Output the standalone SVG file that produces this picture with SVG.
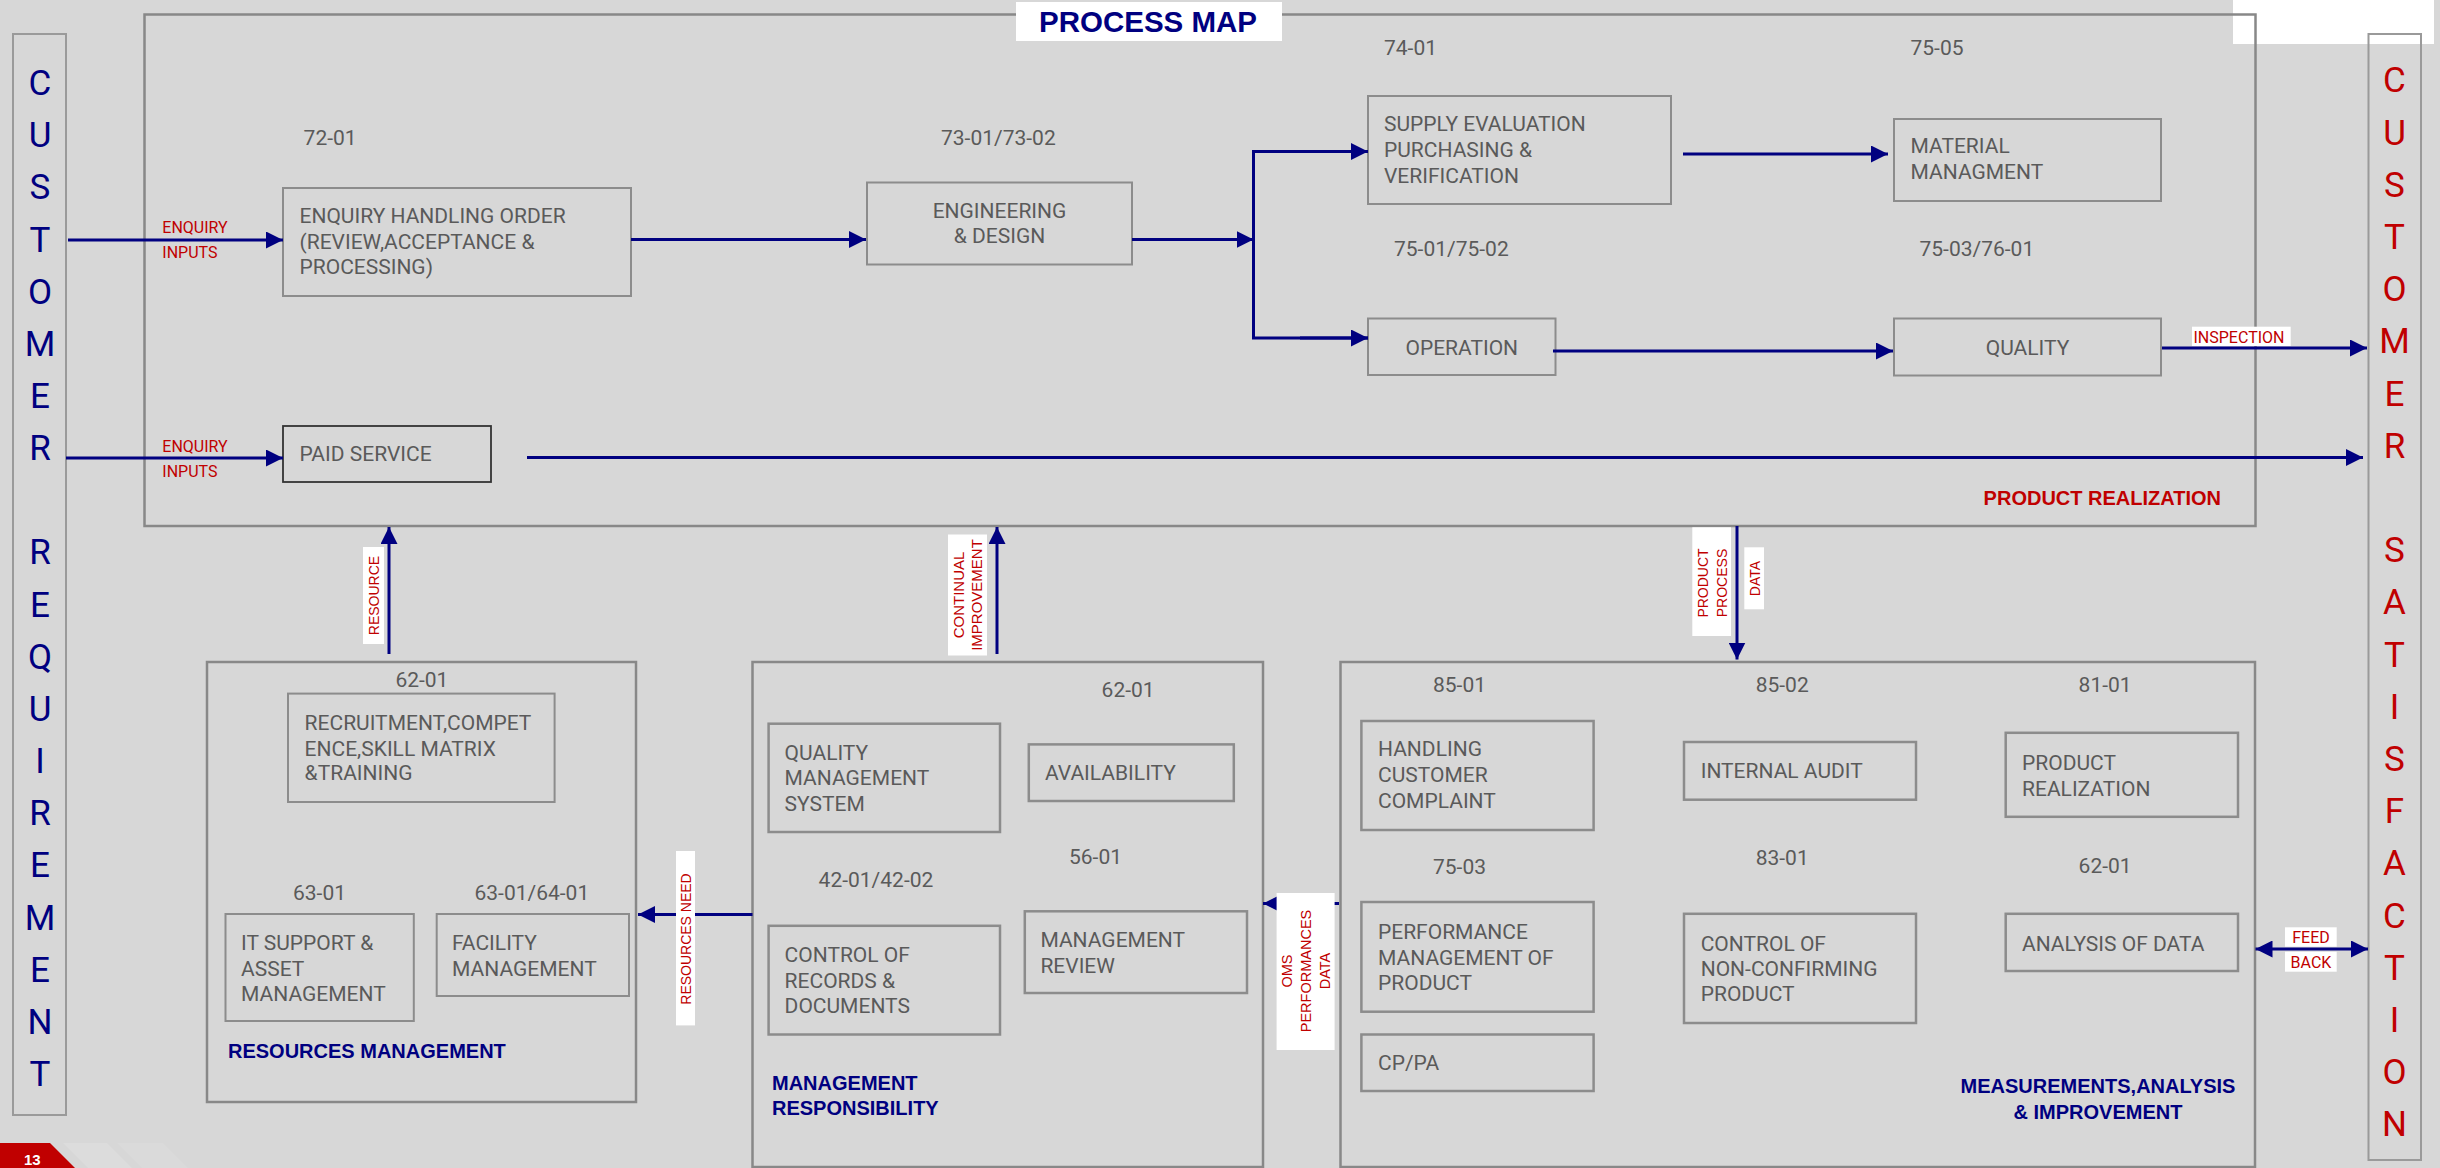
<svg xmlns="http://www.w3.org/2000/svg" width="2440" height="1168" viewBox="0 0 2440 1168">
<defs>
<style>
.bg{fill:#d7d7d7}
.bx{fill:none;stroke:#8c8c8c;stroke-width:2}
.bx2{fill:none;stroke:#8c8c8c;stroke-width:2.5}
.sec{fill:none;stroke:#888888;stroke-width:2.5}
.bar{fill:none;stroke:#9a9a9a;stroke-width:2}
.t{font-family:Roboto,"Liberation Sans",sans-serif;font-size:21px;fill:#5a5a5a}
.c{text-anchor:middle}
.lbl{font-family:Roboto,"Liberation Sans",sans-serif;font-size:16px;fill:#c00000}
.vl{font-family:"Liberation Sans",Arial,sans-serif;font-size:14px;fill:#c00000;text-anchor:middle}
.vl15{font-size:15px}
.vl145{font-size:14.5px}
.ttl{font-family:"Liberation Sans",Arial,sans-serif;font-weight:bold;font-size:20px}
.big{font-size:29.5px}
.navy{fill:#000080}
.red{fill:#c00000}
.letters{font-family:Roboto,"Liberation Sans",sans-serif;font-size:35px;text-anchor:middle}
.conn{stroke:#000080;stroke-width:3;fill:none}
.wbg{fill:#ffffff}
</style>
<marker id="ah" markerUnits="userSpaceOnUse" markerWidth="17" markerHeight="17" refX="17" refY="8.5" orient="auto-start-reverse">
<path d="M0,0 L17,8.5 L0,17 Z" fill="#000080"/>
</marker>
</defs>
<rect class="bg" x="0" y="0" width="2440" height="1168"/>

<!-- decorative page number -->
<g id="page-number">
<polygon points="63,1143 107,1143 132,1168 88,1168" fill="#dcdcdc"/>
<polygon points="117,1143 163,1143 188,1168 142,1168" fill="#dadada"/>
<polygon points="0,1143 50,1143 75,1168 0,1168" fill="#c00000"/>
<text x="24" y="1165" font-family="Liberation Sans, Arial, sans-serif" font-weight="bold" font-size="15" fill="#ffffff">13</text>
</g>

<!-- top right white strip -->
<rect class="wbg" x="2233" y="0" width="201" height="44"/>

<!-- Customer requirement bar -->
<g id="customer-requirement">
<rect class="bar" x="13" y="34" width="53" height="1081"/>
<text class="letters navy"><tspan x="40" y="95">C</tspan><tspan x="40" y="147.2">U</tspan><tspan x="40" y="199.3">S</tspan><tspan x="40" y="251.5">T</tspan><tspan x="40" y="303.6">O</tspan><tspan x="40" y="355.8">M</tspan><tspan x="40" y="408">E</tspan><tspan x="40" y="460.1">R</tspan><tspan x="40" y="564.4">R</tspan><tspan x="40" y="616.6">E</tspan><tspan x="40" y="668.8">Q</tspan><tspan x="40" y="720.9">U</tspan><tspan x="40" y="773.1">I</tspan><tspan x="40" y="825.2">R</tspan><tspan x="40" y="877.4">E</tspan><tspan x="40" y="929.6">M</tspan><tspan x="40" y="981.7">E</tspan><tspan x="40" y="1033.9">N</tspan><tspan x="40" y="1086">T</tspan></text>
</g>

<!-- Customer satisfaction bar -->
<g id="customer-satisfaction">
<rect class="bar" x="2368.5" y="34" width="52.5" height="1126"/>
<text class="letters red"><tspan x="2394.5" y="92.4">C</tspan><tspan x="2394.5" y="144.6">U</tspan><tspan x="2394.5" y="196.8">S</tspan><tspan x="2394.5" y="249">T</tspan><tspan x="2394.5" y="301.2">O</tspan><tspan x="2394.5" y="353.4">M</tspan><tspan x="2394.5" y="405.6">E</tspan><tspan x="2394.5" y="457.8">R</tspan><tspan x="2394.5" y="562.2">S</tspan><tspan x="2394.5" y="614.4">A</tspan><tspan x="2394.5" y="666.6">T</tspan><tspan x="2394.5" y="718.8">I</tspan><tspan x="2394.5" y="771">S</tspan><tspan x="2394.5" y="823.2">F</tspan><tspan x="2394.5" y="875.4">A</tspan><tspan x="2394.5" y="927.6">C</tspan><tspan x="2394.5" y="979.8">T</tspan><tspan x="2394.5" y="1032">I</tspan><tspan x="2394.5" y="1084.2">O</tspan><tspan x="2394.5" y="1136.4">N</tspan></text>
</g>

<!-- Product realization section -->
<g id="product-realization">
<rect class="sec" x="144.5" y="14.5" width="2111" height="511.5"/>
<rect class="wbg" x="1016" y="2" width="266" height="39"/>
<text x="1148" y="31.7" class="ttl big navy c">PROCESS MAP</text>
<text x="2221" y="504.5" class="ttl red" text-anchor="end">PRODUCT REALIZATION</text>
</g>

<g id="enquiry-handling">
<text class="t" x="303.6" y="144.6">72-01</text>
<rect class="bx" x="283" y="188" width="348" height="108"/>
<text class="t" x="299.5" y="223">ENQUIRY HANDLING ORDER</text>
<text class="t" x="299.5" y="248.5">(REVIEW,ACCEPTANCE &amp;</text>
<text class="t" x="299.5" y="274">PROCESSING)</text>
</g>

<g id="engineering-design">
<text class="t" x="941" y="145">73-01/73-02</text>
<rect class="bx" x="867" y="182.5" width="265" height="82"/>
<text class="t c" x="999.5" y="217.6">ENGINEERING</text>
<text class="t c" x="999.5" y="243">&amp; DESIGN</text>
</g>

<g id="supply-evaluation">
<text class="t" x="1384" y="54.5">74-01</text>
<rect class="bx" x="1368" y="96" width="303" height="108"/>
<text class="t" x="1384" y="131">SUPPLY EVALUATION</text>
<text class="t" x="1384" y="157">PURCHASING &amp;</text>
<text class="t" x="1384" y="182.5">VERIFICATION</text>
</g>

<g id="material-management">
<text class="t" x="1910.5" y="54.5">75-05</text>
<rect class="bx" x="1894" y="119" width="267" height="82"/>
<text class="t" x="1910.5" y="153">MATERIAL</text>
<text class="t" x="1910.5" y="179">MANAGMENT</text>
</g>

<g id="operation">
<text class="t" x="1394" y="255.5">75-01/75-02</text>
<rect class="bx" x="1368" y="318.5" width="187.5" height="56.5"/>
<text class="t c" x="1461.75" y="354.7">OPERATION</text>
</g>

<g id="quality">
<text class="t" x="1919.5" y="255.5">75-03/76-01</text>
<rect class="bx" x="1894" y="318.5" width="267" height="57"/>
<text class="t c" x="2027.5" y="354.7">QUALITY</text>
</g>

<g id="paid-service">
<rect x="283" y="426" width="208" height="56" fill="none" stroke="#333333" stroke-width="1.8"/>
<text class="t" x="299.5" y="461">PAID SERVICE</text>
</g>

<!-- Resources management -->
<g id="resources-management">
<rect class="sec" x="207" y="662" width="429" height="440"/>
<text x="228" y="1058.4" class="ttl navy">RESOURCES MANAGEMENT</text>
</g>
<g id="recruitment">
<text class="t" x="395.4" y="686.5">62-01</text>
<rect class="bx" x="288" y="693.6" width="266.6" height="108.4"/>
<text class="t" x="304.6" y="730">RECRUITMENT,COMPET</text>
<text class="t" x="304.6" y="755.5">ENCE,SKILL MATRIX</text>
<text class="t" x="304.6" y="780">&amp;TRAINING</text>
</g>
<g id="it-support">
<text class="t" x="293" y="900">63-01</text>
<rect class="bx" x="225.5" y="914" width="188.3" height="107"/>
<text class="t" x="241" y="950">IT SUPPORT &amp;</text>
<text class="t" x="241" y="975.5">ASSET</text>
<text class="t" x="241" y="1000.6">MANAGEMENT</text>
</g>
<g id="facility">
<text class="t" x="474.5" y="900">63-01/64-01</text>
<rect class="bx" x="436.7" y="914" width="192.3" height="82"/>
<text class="t" x="452" y="950">FACILITY</text>
<text class="t" x="452" y="975.5">MANAGEMENT</text>
</g>

<!-- Management responsibility -->
<g id="management-responsibility">
<rect class="sec" x="752.5" y="662" width="510.5" height="505"/>
<text x="772" y="1090" class="ttl navy">MANAGEMENT</text>
<text x="772" y="1115" class="ttl navy">RESPONSIBILITY</text>
</g>
<g id="qms">
<rect class="bx2" x="768.6" y="723.7" width="231.4" height="108.3"/>
<text class="t" x="784.6" y="759.7">QUALITY</text>
<text class="t" x="784.6" y="785.3">MANAGEMENT</text>
<text class="t" x="784.6" y="811">SYSTEM</text>
</g>
<g id="availability">
<text class="t" x="1101.6" y="697">62-01</text>
<rect class="bx2" x="1028.8" y="744.4" width="205" height="56.6"/>
<text class="t" x="1045" y="780">AVAILABILITY</text>
</g>
<g id="control-records">
<text class="t" x="818.6" y="886.5">42-01/42-02</text>
<rect class="bx2" x="768.6" y="925.8" width="231.4" height="108.7"/>
<text class="t" x="784.6" y="962">CONTROL OF</text>
<text class="t" x="784.6" y="987.8">RECORDS &amp;</text>
<text class="t" x="784.6" y="1013">DOCUMENTS</text>
</g>
<g id="management-review">
<text class="t" x="1069" y="863.8">56-01</text>
<rect class="bx2" x="1024.8" y="911.3" width="222.2" height="81.7"/>
<text class="t" x="1040.4" y="947">MANAGEMENT</text>
<text class="t" x="1040.4" y="972.5">REVIEW</text>
</g>

<!-- Measurements -->
<g id="measurements-analysis-improvement">
<rect class="sec" x="1340.5" y="662" width="914.5" height="505"/>
<text x="2098" y="1093.3" class="ttl navy c">MEASUREMENTS,ANALYSIS</text>
<text x="2098" y="1119.3" class="ttl navy c">&amp; IMPROVEMENT</text>
</g>
<g id="handling-complaint">
<text class="t" x="1433" y="691.5">85-01</text>
<rect class="bx2" x="1361.4" y="721" width="232.2" height="109"/>
<text class="t" x="1378" y="756.4">HANDLING</text>
<text class="t" x="1378" y="782.4">CUSTOMER</text>
<text class="t" x="1378" y="808">COMPLAINT</text>
</g>
<g id="internal-audit">
<text class="t" x="1755.7" y="691.5">85-02</text>
<rect class="bx2" x="1684" y="742" width="232" height="57.7"/>
<text class="t" x="1700.7" y="778">INTERNAL AUDIT</text>
</g>
<g id="product-realization-check">
<text class="t" x="2078.6" y="691.5">81-01</text>
<rect class="bx2" x="2005.7" y="732.8" width="232.3" height="84"/>
<text class="t" x="2022" y="770">PRODUCT</text>
<text class="t" x="2022" y="795.6">REALIZATION</text>
</g>
<g id="performance-management">
<text class="t" x="1433" y="874">75-03</text>
<rect class="bx2" x="1361.4" y="902" width="232.2" height="109.7"/>
<text class="t" x="1378" y="939.4">PERFORMANCE</text>
<text class="t" x="1378" y="964.5">MANAGEMENT OF</text>
<text class="t" x="1378" y="989.8">PRODUCT</text>
</g>
<g id="control-nonconforming">
<text class="t" x="1755.7" y="865">83-01</text>
<rect class="bx2" x="1684" y="913.8" width="232" height="109.2"/>
<text class="t" x="1700.7" y="950.6">CONTROL OF</text>
<text class="t" x="1700.7" y="975.8">NON-CONFIRMING</text>
<text class="t" x="1700.7" y="1001.4">PRODUCT</text>
</g>
<g id="analysis-of-data">
<text class="t" x="2078.6" y="873">62-01</text>
<rect class="bx2" x="2005.7" y="913.8" width="232.3" height="57.2"/>
<text class="t" x="2022" y="950.6">ANALYSIS OF DATA</text>
</g>
<g id="cp-pa">
<rect class="bx2" x="1361.4" y="1034.5" width="232.2" height="56.5"/>
<text class="t" x="1378" y="1070">CP/PA</text>
</g>

<!-- Connectors -->
<g id="connectors">
<line class="conn" x1="68" y1="240" x2="283" y2="240" marker-end="url(#ah)"/>
<line class="conn" x1="66" y1="458" x2="283" y2="458" marker-end="url(#ah)"/>
<line class="conn" x1="631" y1="239.5" x2="866" y2="239.5" marker-end="url(#ah)"/>
<line class="conn" x1="1132" y1="239.5" x2="1253.5" y2="239.5" marker-end="url(#ah)"/>
<polyline class="conn" points="1368,151.5 1253.5,151.5 1253.5,338 1368,338"/>
<line class="conn" x1="1300" y1="151.5" x2="1368" y2="151.5" marker-end="url(#ah)"/>
<line class="conn" x1="1300" y1="338" x2="1368" y2="338" marker-end="url(#ah)"/>
<line class="conn" x1="1683" y1="154" x2="1888" y2="154" marker-end="url(#ah)"/>
<line class="conn" x1="1553" y1="351" x2="1893" y2="351" marker-end="url(#ah)"/>
<line class="conn" x1="2162" y1="348" x2="2367" y2="348" marker-end="url(#ah)"/>
<line class="conn" x1="527" y1="457.5" x2="2363" y2="457.5" marker-end="url(#ah)"/>
<line class="conn" x1="389" y1="654" x2="389" y2="527" marker-end="url(#ah)"/>
<line class="conn" x1="997" y1="654" x2="997" y2="527" marker-end="url(#ah)"/>
<line class="conn" x1="1737" y1="526" x2="1737" y2="659.5" marker-end="url(#ah)"/>
<line class="conn" x1="752.5" y1="914.5" x2="638" y2="914.5" marker-end="url(#ah)"/>
<line class="conn" x1="1339" y1="903.5" x2="1263" y2="903.5" marker-end="url(#ah)"/>
<line class="conn" x1="2255.5" y1="949" x2="2368" y2="949" marker-start="url(#ah)" marker-end="url(#ah)"/>
</g>

<!-- Connector labels -->
<g id="connector-labels">
<text class="lbl" x="162.3" y="233">ENQUIRY</text>
<text class="lbl" x="162.3" y="258">INPUTS</text>
<text class="lbl" x="162.3" y="451.5">ENQUIRY</text>
<text class="lbl" x="162.3" y="476.5">INPUTS</text>
<rect class="wbg" x="2192" y="326.7" width="98.7" height="19.3"/>
<text class="lbl" x="2193.5" y="342.7">INSPECTION</text>
<rect class="wbg" x="2285" y="927.3" width="51.7" height="19.4"/>
<rect class="wbg" x="2285" y="951.7" width="51.7" height="20"/>
<text class="lbl c" x="2311" y="943.3">FEED</text>
<text class="lbl c" x="2311" y="967.7">BACK</text>
<rect class="wbg" x="363" y="547" width="21" height="97"/>
<text class="vl" transform="translate(378.5,595.5) rotate(-90)">RESOURCE</text>
<rect class="wbg" x="676" y="851" width="19" height="174.4"/>
<text class="vl" transform="translate(690.5,939) rotate(-90)">RESOURCES NEED</text>
<rect class="wbg" x="948" y="534.5" width="39" height="121"/>
<text class="vl vl15" transform="translate(964,595) rotate(-90)">CONTINUAL</text>
<text class="vl vl15" transform="translate(982,595) rotate(-90)">IMPROVEMENT</text>
<rect class="wbg" x="1692.3" y="527.3" width="38.7" height="108.7"/>
<text class="vl" transform="translate(1707.7,583) rotate(-90)">PRODUCT</text>
<text class="vl" transform="translate(1726.7,583) rotate(-90)">PROCESS</text>
<rect class="wbg" x="1744.3" y="547.3" width="19.7" height="62"/>
<text class="vl" transform="translate(1760,578.5) rotate(-90)">DATA</text>
<rect class="wbg" x="1276.6" y="893" width="58" height="157"/>
<text class="vl vl145" transform="translate(1292,971) rotate(-90)">OMS</text>
<text class="vl vl145" transform="translate(1311,971) rotate(-90)">PERFORMANCES</text>
<text class="vl vl145" transform="translate(1330,971) rotate(-90)">DATA</text>
</g>
</svg>
